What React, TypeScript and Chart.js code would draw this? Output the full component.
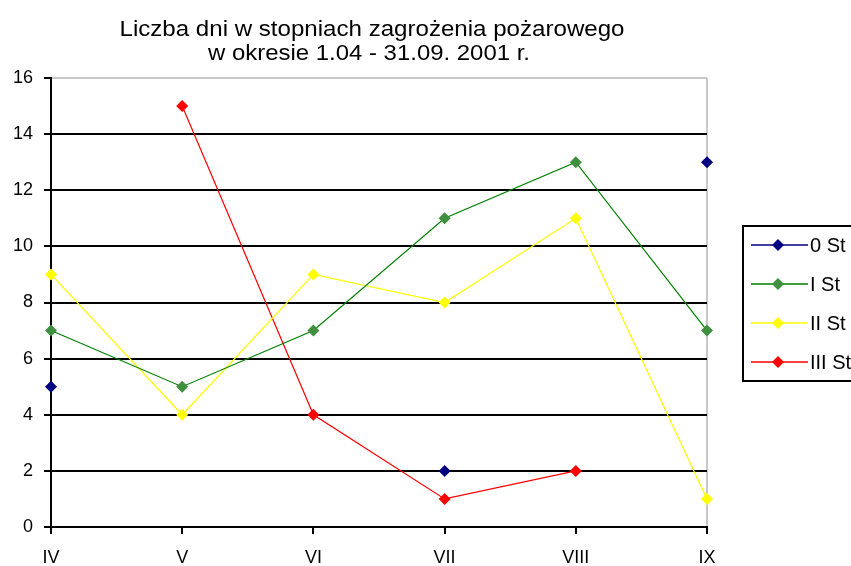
import React, { useEffect, useRef } from "react";
import { Chart, registerables } from "chart.js";

Chart.register(...registerables);

const categories = ["IV", "V", "VI", "VII", "VIII", "IX"];
const st0 = [5, null, null, 2, null, 13];
const st1 = [7, 5, 7, 11, 13, 7];
const st2 = [9, 4, 9, 8, 11, 1];
const st3 = [null, 15, 4, 1, 2, null];
const seriesNames = ["0 St", "I St", "II St", "III St"];
const titleLines = ["Liczba dni w stopniach zagrożenia pożarowego", "w okresie 1.04 - 31.09. 2001 r."];

const FONT = "'Liberation Sans', Arial, sans-serif";

const titlePlugin = {
  id: "customTitle",
  afterDraw(chart: any) {
    const ctx = chart.ctx;
    ctx.save();
    ctx.fillStyle = "#000";
    ctx.font = `22px ${FONT}`;
    ctx.textBaseline = "alphabetic";
    ctx.textAlign = "center";
    const targets = [{ y: 36, w: 505, cx: 372 }, { y: 60, w: 322, cx: 369 }];
    titleLines.forEach((t, i) => {
      const m = ctx.measureText(t).width;
      const sx = targets[i].w / m;
      ctx.save();
      ctx.translate(targets[i].cx, targets[i].y);
      ctx.scale(sx, 1);
      ctx.fillText(t, 0, 0);
      ctx.restore();
    });
    ctx.restore();
  },
};

const legendPlugin = {
  id: "customLegend",
  afterDraw(chart: any) {
    const ctx = chart.ctx;
    ctx.save();
    ctx.strokeStyle = "#000";
    ctx.lineWidth = 2;
    ctx.strokeRect(743, 226, 130, 155);
    const rows = [245, 284, 323, 362];
    chart.data.datasets.forEach((ds: any, i: number) => {
      const y = rows[i];
      ctx.strokeStyle = ds.borderColor;
      ctx.lineWidth = 1.5;
      ctx.beginPath();
      ctx.moveTo(751, y);
      ctx.lineTo(808, y);
      ctx.stroke();
      ctx.fillStyle = ds.pointBackgroundColor;
      ctx.beginPath();
      const r = 6;
      ctx.moveTo(778, y - r);
      ctx.lineTo(778 + r, y);
      ctx.lineTo(778, y + r);
      ctx.lineTo(778 - r, y);
      ctx.closePath();
      ctx.fill();
      ctx.fillStyle = "#000";
      ctx.font = `20px ${FONT}`;
      ctx.textBaseline = "middle";
      ctx.textAlign = "left";
      ctx.fillText(seriesNames[i], 810, y + 1);
    });
    ctx.restore();
  },
};

export default function App() {
  const ref = useRef<HTMLCanvasElement>(null);
  useEffect(() => {
    const mk = (label: string, data: any[], line: string, point: string) => ({
      label,
      data,
      borderColor: line,
      backgroundColor: point,
      pointBackgroundColor: point,
      pointBorderColor: point,
      borderWidth: 1.2,
      pointStyle: "rectRot",
      pointRadius: 6,
      pointBorderWidth: 0,
      spanGaps: false,
      tension: 0,
    });
    const chart = new Chart(ref.current as HTMLCanvasElement, {
      type: "line",
      data: {
        labels: categories,
        datasets: [
          mk(seriesNames[0], st0, "#000080", "#000080"),
          mk(seriesNames[1], st1, "#008000", "#3f8f3f"),
          mk(seriesNames[2], st2, "#ffff00", "#ffff00"),
          mk(seriesNames[3], st3, "#ff0000", "#ff0000"),
        ],
      },
      options: {
        animation: false,
        responsive: false,
        layout: { padding: { left: 0, top: 78, right: 144, bottom: 0 } },
        plugins: { legend: { display: false }, title: { display: false }, tooltip: { enabled: false } },
        scales: {
          x: {
            offset: false,
            afterFit: (s: any) => { s.height = 39; },
            grid: {
              drawOnChartArea: true,
              color: (c: any) => (c.index === categories.length - 1 ? "#c8c8c8" : "rgba(0,0,0,0)"),
              tickColor: "#000",
              tickLength: 7,
              lineWidth: 2,
            },
            border: { display: true, color: "#000", width: 2 },
            ticks: { color: "#000", font: { family: FONT, size: 18 }, padding: 13, maxRotation: 0 },
          },
          y: {
            min: 0,
            max: 16,
            afterFit: (s: any) => { s.width = 51; },
            grid: {
              color: (c: any) => (c.tick && c.tick.value === 16 ? "#c8c8c8" : "#000"),
              tickColor: "#000",
              tickLength: 7,
              lineWidth: 2,
            },
            border: { display: true, color: "#000", width: 2 },
            ticks: { stepSize: 2, color: "#000", font: { family: FONT, size: 18 }, padding: 11 },
          },
        },
      },
      plugins: [titlePlugin, legendPlugin],
    });
    return () => chart.destroy();
  }, []);
  return (
    <div style={{ position: "fixed", left: 0, top: 0, width: 851, height: 566, background: "#fff" }}>
      <canvas ref={ref} width={851} height={566} style={{ display: "block" }} />
    </div>
  );
}
